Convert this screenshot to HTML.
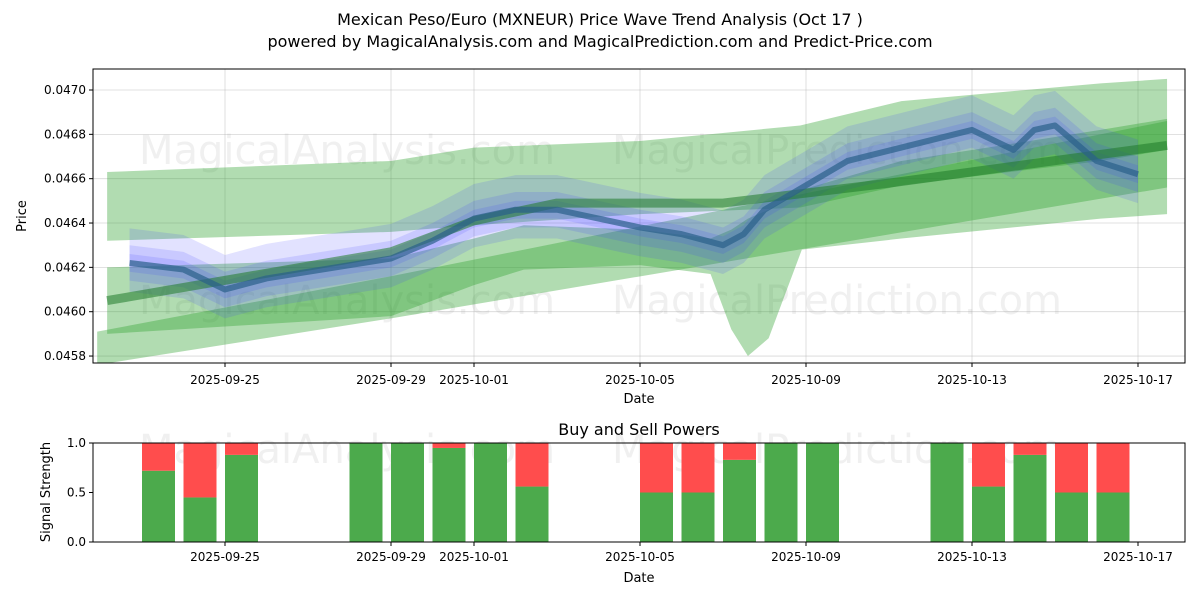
<!DOCTYPE html>
<html><head><meta charset="utf-8"><style>
body{margin:0;background:#fff;font-family:"Liberation Sans","DejaVu Sans",sans-serif}
svg text{font-family:"DejaVu Sans","Liberation Sans",sans-serif}
</style></head><body>
<svg id="c" width="1200" height="600" xmlns="http://www.w3.org/2000/svg">
<rect width="1200" height="600" fill="#fff"/>
<text x="600" y="25" font-size="16" text-anchor="middle">Mexican Peso/Euro (MXNEUR) Price Wave Trend Analysis (Oct 17 )</text>
<text x="600" y="47" font-size="16" text-anchor="middle">powered by MagicalAnalysis.com and MagicalPrediction.com and Predict-Price.com</text>
<defs><clipPath id="cp1"><rect x="93" y="69" width="1092" height="294"/></clipPath></defs>
<g id="topG" clip-path="url(#cp1)"></g>
<g id="topAxes"></g>
<g id="bot"></g>
</svg>
<script>
// ---- data ----
const tickDays=[0,4,6,10,14,18,22];
const tickLabels=["2025-09-25","2025-09-29","2025-10-01","2025-10-05","2025-10-09","2025-10-13","2025-10-17"];
const yTicks=[0.0458,0.0460,0.0462,0.0464,0.0466,0.0468,0.0470];
const bandADays=[-2.84,4,6,10,13.86,16.3,21.1,22.7];
const bandAUpper=[0.04663,0.04668,0.04674,0.04677,0.04684,0.04695,0.04703,0.04705];
const bandALower=[0.04632,0.04636,0.04639,0.04644,0.04647,0.04657,0.04668,0.04673];
const bandBDays=[-2.84,4,6,7.2,10,11.7,12.2,12.6,13.1,13.9,16.3,21.1,22.7];
const bandBUpper=[0.04620,0.04624,0.04633,0.04639,0.04637,0.04633,0.04637,0.04642,0.04646,0.04655,0.04668,0.04682,0.04687];
const bandBLower=[0.04590,0.04598,0.04612,0.04619,0.04621,0.04617,0.04592,0.04580,0.04588,0.04628,0.04633,0.04642,0.04644];
const bandCDays=[-3.08,4,22.7];
const bandCUpper=[0.04591,0.04616,0.04686];
const bandCLower=[0.04576,0.04597,0.04656];
const trendDays=[-2.84,4,6,8,12,16,22.7];
const trendVals=[0.04605,0.04627,0.04641,0.04649,0.04649,0.04658,0.04675];
const priceDays=[-2.3,-1,0,1,4,5,6,7,8,10,11,12,12.5,13,14,15,18,19,19.5,20,21,22];
const priceVals=[0.04622,0.04619,0.04610,0.04615,0.04624,0.04632,0.04642,0.04646,0.04646,0.04638,0.04635,0.04630,0.04635,0.04646,0.04657,0.04668,0.04682,0.04673,0.04682,0.04684,0.04668,0.04662];
const barDays=[-2,-1,0,3,4,5,6,7,10,11,12,13,14,17,18,19,20,21];
const buyVals=[0.72,0.45,0.88,1.0,1.0,0.95,1.0,0.56,0.5,0.5,0.83,1.0,1.0,1.0,0.56,0.88,0.5,0.5];
const barTickDays=[0,4,6,10,14,18,22];
// ---- axes ----
const NS="http://www.w3.org/2000/svg";
const x=d=>225+41.5*d;
const y=v=>90+(0.047-v)*221700;
const yb=s=>542-s*99;
const xbar=d=>142+41.5*(d+2);
function mk(t,a,p){const e=document.createElementNS(NS,t);for(const k in a)e.setAttribute(k,a[k]);(p||document.getElementById('c')).appendChild(e);return e;}
const topG=document.getElementById('topG'),ta=document.getElementById('topAxes'),bot=document.getElementById('bot');
tickDays.forEach(d=>{const l=mk('line',{x1:x(d),x2:x(d),y1:69,y2:363,stroke:'#b0b0b0','stroke-width':0.8,'stroke-opacity':0.5},topG);

});
yTicks.forEach(v=>{const l=mk('line',{x1:93,x2:1185,y1:y(v),y2:y(v),stroke:'#b0b0b0','stroke-width':0.8,'stroke-opacity':0.5},topG);

});
[[347,150],[837,150],[347,300],[837,300]].forEach((p,i)=>{const t=mk('text',{x:p[0],y:p[1]+14,'font-size':40,fill:'#888','fill-opacity':0.13,'text-anchor':'middle'},topG);
t.textContent=i%2?'MagicalPrediction.com':'MagicalAnalysis.com';

});
function band(days,up,lo,fill,op,name){let pts=days.map((d,i)=>x(d)+','+y(up[i]));for(let i=days.length-1;i>=0;i--)pts.push(x(days[i])+','+y(lo[i]));
const p=mk('polygon',{points:pts.join(' '),fill:fill,'fill-opacity':op},topG);

}
band(bandADays,bandAUpper,bandALower,'#2ca02c',0.37,'upper-green-band');
band(bandBDays,bandBUpper,bandBLower,'#2ca02c',0.37,'lower-green-band');
band(bandCDays,bandCUpper,bandCLower,'#2ca02c',0.37,'diagonal-green-band');
[0.00013,0.00008,0.00004].forEach((o,k)=>{
 band(priceDays,priceVals.map(v=>v+o*(k==0?1.2:1)),priceVals.map(v=>v-o),'#3a3aff',0.15,'price-wave-band');});
const tl=mk('polyline',{points:trendDays.map((d,i)=>x(d)+','+y(trendVals[i])).join(' '),fill:'none',stroke:'#1f7a2a','stroke-opacity':0.55,'stroke-width':9,'stroke-linejoin':'round'},topG);


const pl=mk('polyline',{points:priceDays.map((d,i)=>x(d)+','+y(priceVals[i])).join(' '),fill:'none',stroke:'#2a5f8a','stroke-opacity':0.7,'stroke-width':6,'stroke-linejoin':'round'},topG);


let f=mk('rect',{x:93,y:69,width:1092,height:294,fill:'none',stroke:'#000','stroke-width':1},ta);


tickDays.forEach((d,i)=>{mk('line',{x1:x(d),x2:x(d),y1:363,y2:367,stroke:'#000'},ta);
const t=mk('text',{x:x(d),y:384,'font-size':12,'text-anchor':'middle'},ta);t.textContent=tickLabels[i];

});
yTicks.forEach(v=>{mk('line',{x1:89,x2:93,y1:y(v),y2:y(v),stroke:'#000'},ta);
const t=mk('text',{x:86,y:y(v)+4,'font-size':12,'text-anchor':'end'},ta);t.textContent=v.toFixed(4);

});
let t1=mk('text',{x:639,y:403,'font-size':13,'text-anchor':'middle'},ta);t1.textContent='Date';


let t2=mk('text',{x:26,y:216,'font-size':13,'text-anchor':'middle',transform:'rotate(-90 26 216)'},ta);t2.textContent='Price';


let bt=mk('text',{x:639,y:435,'font-size':16,'text-anchor':'middle'},bot);bt.textContent='Buy and Sell Powers';


[[347,455],[837,455]].forEach((p,i)=>{const t=mk('text',{x:p[0],y:p[1]+8,'font-size':40,fill:'#888','fill-opacity':0.13,'text-anchor':'middle'},bot);
t.textContent=i?'MagicalPrediction.com':'MagicalAnalysis.com';

});
barDays.forEach((d,i)=>{const L=xbar(d);
 const g=mk('rect',{x:L,y:yb(buyVals[i]),width:33,height:buyVals[i]*99,fill:'#4caa4c'},bot);
 
 
 const r=mk('rect',{x:L,y:443,width:33,height:(1-buyVals[i])*99,fill:'#ff4d4d'},bot);
 
 });
let f2=mk('rect',{x:93,y:443,width:1092,height:99,fill:'none',stroke:'#000'},bot);


barTickDays.forEach((d,i)=>{mk('line',{x1:x(d),x2:x(d),y1:542,y2:546,stroke:'#000'},bot);
const t=mk('text',{x:x(d),y:561,'font-size':12,'text-anchor':'middle'},bot);t.textContent=tickLabels[i];

});
[0,0.5,1].forEach(s=>{mk('line',{x1:89,x2:93,y1:yb(s),y2:yb(s),stroke:'#000'},bot);
const t=mk('text',{x:86,y:yb(s)+4,'font-size':12,'text-anchor':'end'},bot);t.textContent=s.toFixed(1);

});
let t3=mk('text',{x:639,y:582,'font-size':13,'text-anchor':'middle'},bot);t3.textContent='Date';


let t4=mk('text',{x:50,y:492,'font-size':13,'text-anchor':'middle',transform:'rotate(-90 50 492)'},bot);t4.textContent='Signal Strength';


</script>
</body></html>
